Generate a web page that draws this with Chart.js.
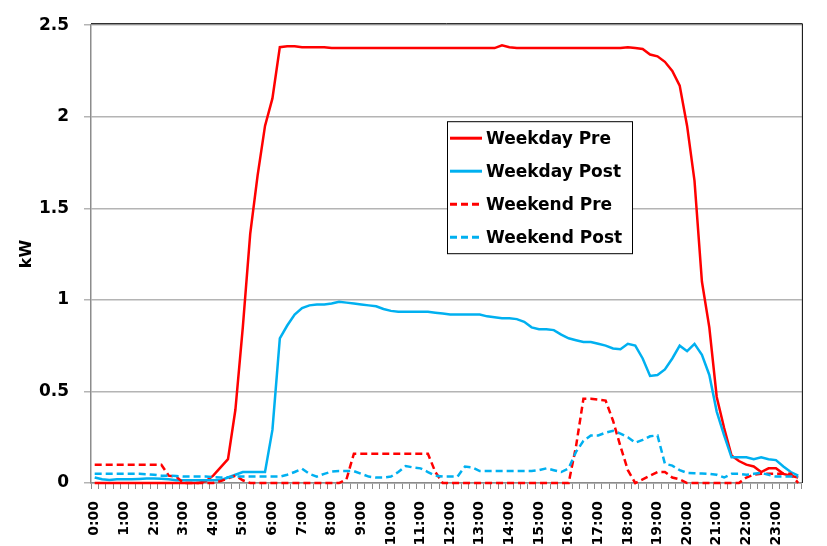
<!DOCTYPE html>
<html>
<head>
<meta charset="utf-8">
<script src="https://cdn.jsdelivr.net/npm/chart.js@4.4.1/dist/chart.umd.min.js"></script>
<style>
  html, body { margin: 0; padding: 0; background: #fff; }
</style>
</head>
<body>
<canvas id="chart" width="827" height="546"></canvas>
<script>
// hour tick labels, data is every 15 minutes
const hourLabels = ["0:00", "1:00", "2:00", "3:00", "4:00", "5:00", "6:00", "7:00", "8:00", "9:00", "10:00", "11:00",
  "12:00", "13:00", "14:00", "15:00", "16:00", "17:00", "18:00", "19:00", "20:00", "21:00", "22:00", "23:00"]
const quarterMinutes = ["00", "15", "30", "45"]

const weekdayPre = [
  0, 0, 0, 0, 0, 0, 0, 0, 0, 0, 0, 0, 0, 0, 0,
  0.01, 0.04, 0.085, 0.13, 0.40, 0.85, 1.36, 1.68, 1.95, 2.10,
  2.38, 2.385, 2.385, 2.38, 2.38, 2.38, 2.38, 2.375, 2.375, 2.375,
  2.375, 2.375, 2.375, 2.375, 2.375, 2.375, 2.375, 2.375, 2.375, 2.375,
  2.375, 2.375, 2.375, 2.375, 2.375, 2.375, 2.375, 2.375, 2.375, 2.375,
  2.39, 2.38, 2.375, 2.375, 2.375, 2.375, 2.375, 2.375, 2.375, 2.375,
  2.375, 2.375, 2.375, 2.375, 2.375, 2.375, 2.375, 2.38, 2.375, 2.37,
  2.34, 2.33, 2.30, 2.25, 2.17, 1.95, 1.65, 1.10, 0.85, 0.47,
  0.30, 0.15, 0.12, 0.10, 0.09, 0.06, 0.08, 0.08, 0.05, 0.04, 0.03
]
const weekdayPost = [
  0.03, 0.02, 0.016, 0.02, 0.02, 0.02, 0.022, 0.024, 0.025, 0.023,
  0.02, 0.015, 0.015, 0.015, 0.015, 0.015, 0.015, 0.015, 0.03, 0.045,
  0.06, 0.06, 0.06, 0.06, 0.29, 0.79, 0.86, 0.92, 0.955, 0.97,
  0.975, 0.975, 0.98, 0.99, 0.985, 0.98, 0.975, 0.97, 0.965, 0.95,
  0.94, 0.935, 0.935, 0.935, 0.935, 0.935, 0.93, 0.925, 0.92, 0.92,
  0.92, 0.92, 0.92, 0.91, 0.905, 0.90, 0.90, 0.895, 0.88, 0.85,
  0.84, 0.84, 0.835, 0.81, 0.79, 0.78, 0.77, 0.77, 0.76, 0.75,
  0.735, 0.73, 0.76, 0.75, 0.68, 0.585, 0.59, 0.62, 0.68, 0.75,
  0.72, 0.76, 0.70, 0.59, 0.39, 0.26, 0.14, 0.14, 0.14, 0.13,
  0.14, 0.13, 0.125, 0.09, 0.06, 0.04
]
const weekendPre = [
  0.10, 0.10, 0.10, 0.10, 0.10, 0.10, 0.10, 0.10, 0.10, 0.10,
  0.04, 0.035, 0, 0, 0, 0, 0, 0.01, 0.025, 0.04,
  0.015, 0, 0, 0, 0, 0, 0, 0, 0, 0,
  0, 0, 0, 0, 0.02, 0.16, 0.16, 0.16, 0.16, 0.16,
  0.16, 0.16, 0.16, 0.16, 0.16, 0.16, 0.06, 0, 0, 0,
  0, 0, 0, 0, 0, 0, 0, 0, 0, 0,
  0, 0, 0, 0, 0, 0.2, 0.46, 0.46, 0.455, 0.45,
  0.34, 0.2, 0.07, 0, 0.02, 0.04, 0.06, 0.06, 0.03, 0.02,
  0, 0, 0, 0, 0, 0, 0, 0, 0.03, 0.045,
  0.05, 0.05, 0.05, 0.05, 0.05, 0
]
const weekendPost = [
  0.05, 0.05, 0.05, 0.05, 0.05, 0.05, 0.05, 0.048, 0.045, 0.04,
  0.04, 0.038, 0.035, 0.035, 0.035, 0.035, 0.032, 0.03, 0.032, 0.035,
  0.035, 0.035, 0.035, 0.035, 0.035, 0.035, 0.045, 0.06, 0.078, 0.05,
  0.035, 0.05, 0.062, 0.065, 0.065, 0.065, 0.05, 0.035, 0.03, 0.03,
  0.035, 0.06, 0.093, 0.085, 0.08, 0.06, 0.04, 0.035, 0.035, 0.035,
  0.09, 0.085, 0.065, 0.065, 0.065, 0.065, 0.065, 0.065, 0.065, 0.065,
  0.07, 0.08, 0.07, 0.06, 0.08, 0.17, 0.23, 0.26, 0.26, 0.275,
  0.285, 0.27, 0.25, 0.22, 0.235, 0.255, 0.26, 0.105, 0.095, 0.07,
  0.055, 0.053, 0.052, 0.05, 0.045, 0.03, 0.05, 0.05, 0.045, 0.05,
  0.055, 0.045, 0.035, 0.035, 0.035, 0.035
]

const timeLabels = []
hourLabels.forEach(h => {
  const hh = h.split(":")[0]
  quarterMinutes.forEach(m => timeLabels.push(hh + ":" + m))
})

const RED = "#FF0000"
const BLUE = "#00B0F0"
const DASH = [7, 4]
const FONT = "'DejaVu Sans', sans-serif"

Chart.defaults.font.family = FONT
Chart.defaults.color = "#000"

// black frame on top and right of plot area
const frame = {
  id: "frame",
  beforeDatasetsDraw(chart) {
    const { ctx, chartArea: a } = chart
    ctx.save()
    ctx.strokeStyle = "#000"
    ctx.lineWidth = 1
    ctx.beginPath()
    ctx.moveTo(a.left, a.top - 1.5)
    ctx.lineTo(a.right + 0.5, a.top - 1.5)
    ctx.lineTo(a.right + 0.5, a.bottom)
    ctx.stroke()
    ctx.restore()
  }
}

// boxed legend inside the plot
const boxLegend = {
  id: "boxLegend",
  afterDraw(chart) {
    const { ctx, chartArea } = chart
    const x = chartArea.left + 356
    const y = chartArea.top + 96
    const w = 185
    const h = 132
    ctx.save()
    ctx.fillStyle = "#fff"
    ctx.fillRect(x, y, w, h)
    ctx.strokeStyle = "#000"
    ctx.lineWidth = 1
    ctx.strokeRect(x + 0.5, y + 0.5, w, h)
    chart.data.datasets.forEach((ds, i) => {
      const rowY = y + 17 + i * 33
      ctx.beginPath()
      ctx.setLineDash(ds.borderDash || [])
      ctx.strokeStyle = ds.borderColor
      ctx.lineWidth = 3
      ctx.moveTo(x + 3, rowY)
      ctx.lineTo(x + 35, rowY)
      ctx.stroke()
      ctx.setLineDash([])
      ctx.fillStyle = "#000"
      ctx.font = "bold 17px " + FONT
      ctx.textBaseline = "middle"
      ctx.fillText(ds.label, x + 39, rowY + 1)
    })
    ctx.restore()
  }
}

const series = (label, data, color, dash, order) => ({
  label,
  data,
  borderColor: color,
  backgroundColor: color,
  borderWidth: 2.5,
  borderDash: dash,
  pointRadius: 0,
  tension: 0,
  clip: false,
  order
})

new Chart(document.getElementById("chart"), {
  type: "line",
  data: {
    labels: timeLabels,
    datasets: [
      series("Weekday Pre", weekdayPre, RED, [], 3),
      series("Weekday Post", weekdayPost, BLUE, [], 2),
      series("Weekend Pre", weekendPre, RED, DASH, 1),
      series("Weekend Post", weekendPost, BLUE, DASH, 0)
    ]
  },
  options: {
    responsive: false,
    animation: false,
    layout: { padding: { top: 18, right: 4, left: 0, bottom: 0 } },
    plugins: {
      legend: { display: false },
      tooltip: { enabled: false }
    },
    scales: {
      x: {
        offset: true,
        grid: { offset: true, drawOnChartArea: false, tickLength: 6, color: "#8c8c8c" },
        border: { color: "#8c8c8c", width: 1.5 },
        ticks: {
          autoSkip: false,
          minRotation: 90,
          maxRotation: 90,
          padding: 12,
          font: { size: 14, weight: "bold" },
          callback(value) {
            const lbl = this.getLabelForValue(value)
            return hourLabels.includes(lbl) ? lbl : ""
          }
        },
        afterFit(scale) { scale.height = 63 }
      },
      y: {
        min: 0,
        max: 2.5,
        grid: { color: "#b4b4b4", lineWidth: 1.5, tickLength: 7 },
        border: { color: "#8c8c8c", width: 1.5 },
        ticks: {
          stepSize: 0.5,
          padding: 15,
          font: { size: 17, weight: "bold" },
          callback: value => String(value)
        },
        title: {
          display: true,
          text: "kW",
          font: { size: 16, weight: "bold" },
          padding: { top: 17, bottom: 0 }
        },
        afterFit(scale) { scale.width = 91 }
      }
    }
  },
  plugins: [frame, boxLegend]
})
</script>
</body>
</html>
